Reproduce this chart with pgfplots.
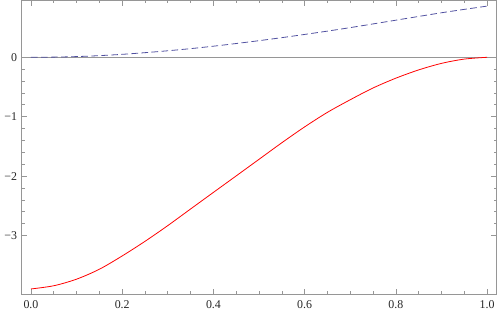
\documentclass[border=0pt]{standalone}
\usepackage{pgfplots}
\pgfplotsset{compat=1.18}
\usepackage{fontspec}
\setmainfont{Liberation Serif}
\definecolor{frm}{RGB}{150,150,150}
\definecolor{bl}{RGB}{80,80,160}
\begin{document}
\begin{tikzpicture}
\begin{axis}[
  scale only axis,
  width=359pt, height=222pt,
  xmin=-0.0202, xmax=1.021,
  ymin=-3.987, ymax=0.958,
  axis line style={frm, line width=0.6pt},
  tick style={frm, line width=0.5pt},
  tick align=inside,
  major tick length=4pt,
  minor tick length=2.3pt,
  xtick={0,0.2,0.4,0.6,0.8,1.0},
  xticklabels={0.0,0.2,0.4,0.6,0.8,1.0},
  minor x tick num=3,
  ytick={-3,-2,-1,0},
  yticklabels={−3,−2,−1,0},
  minor y tick num=4,
  tick label style={font=\fontsize{9}{10}\selectfont, text=black!85},
  xticklabel style={yshift=-1pt},
  clip=true,
]
\addplot[frm, line width=0.6pt] coordinates {(-0.1,0) (1.1,0)};
\addplot[bl, line width=0.6pt, dash pattern=on 5pt off 2.6pt, smooth] coordinates {
(0,0) (0.05,0.003) (0.1,0.012) (0.15,0.028) (0.2,0.05) (0.25,0.078) (0.3,0.11) (0.35,0.146) (0.4,0.187) (0.45,0.232) (0.5,0.28) (0.55,0.331) (0.6,0.385) (0.65,0.441) (0.7,0.5) (0.75,0.562) (0.8,0.625) (0.85,0.688) (0.9,0.75) (0.95,0.807) (1.0,0.862)};
\addplot[red, line width=0.6pt, smooth] coordinates {
(0,-3.900) (0.05,-3.846) (0.1,-3.735) (0.15,-3.568) (0.2,-3.344) (0.25,-3.098) (0.3,-2.833) (0.35,-2.553) (0.4,-2.274) (0.45,-1.996) (0.5,-1.717) (0.55,-1.438) (0.6,-1.171) (0.65,-0.926) (0.7,-0.714) (0.75,-0.516) (0.8,-0.351) (0.85,-0.212) (0.9,-0.102) (0.95,-0.030) (1.0,0)};
\end{axis}
\end{tikzpicture}
\end{document}
